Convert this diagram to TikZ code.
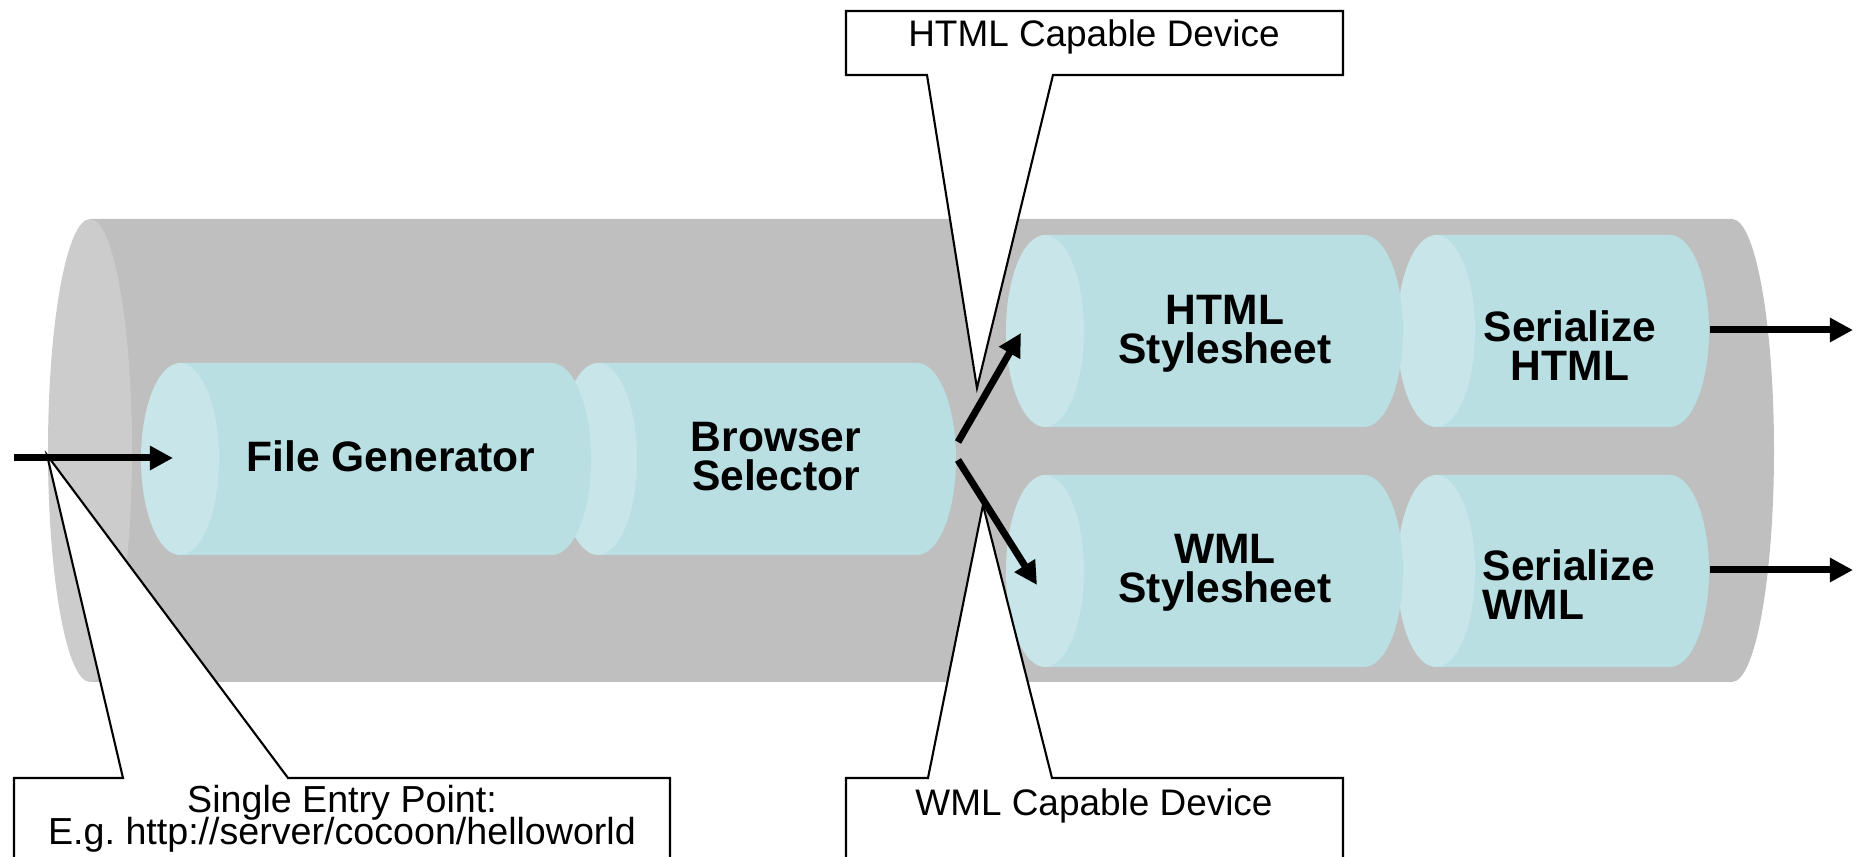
\documentclass[tikz,border=0pt]{standalone}
\usepackage{fontspec}
\setmainfont{Liberation Sans}
\usetikzlibrary{arrows.meta}

\definecolor{pipebody}{RGB}{191,191,191}
\definecolor{pipeend}{RGB}{204,204,204}
\definecolor{stagebody}{RGB}{185,223,227}
\definecolor{stageend}{RGB}{200,230,233}

% lines of the notes sit closer than the font would set them
\newcommand{\tightlines}{\setlength{\lineskiplimit}{-20pt}}

\begin{document}
\begin{tikzpicture}[x=0.01cm, y=0.01cm,
    stage/.style={fill=stagebody},
    stagecap/.style={fill=stageend},
    flow/.style={line width=0.07cm, -{Triangle[length=0.23cm, width=0.23cm]}},
    callout/.style={draw=black, fill=white, line width=0.6pt},
    stagetext/.style={font=\bfseries\fontsize{12.1}{11.1}\selectfont, align=center, inner sep=0pt},
    notetext/.style={font=\fontsize{10.5}{9.1}\selectfont\tightlines, align=center, inner sep=0pt}]

    \useasboundingbox (0,0) rectangle (1856,857);
    \clip (0,0) rectangle (1856,857);

    % The outer pipeline
    \fill[pipebody] (90,638) -- (1732,638) arc[start angle=90, end angle=-90, x radius=42, y radius=231.5] -- (90,175) -- cycle;
    \fill[pipeend] (90,406.5) ellipse [x radius=42, y radius=231.5];

    % Serializers (drawn first, the stylesheets overlap them)
    \fill[stage] (1436,622) -- (1670,622) arc[start angle=90, end angle=-90, x radius=39, y radius=96] -- (1436,430) -- cycle;
    \fill[stagecap] (1436,526) ellipse [x radius=39, y radius=96];
    \fill[stage] (1436,382) -- (1670,382) arc[start angle=90, end angle=-90, x radius=39, y radius=96] -- (1436,190) -- cycle;
    \fill[stagecap] (1436,286) ellipse [x radius=39, y radius=96];

    % Stylesheets
    \fill[stage] (1045,622) -- (1364,622) arc[start angle=90, end angle=-90, x radius=39, y radius=96] -- (1045,430) -- cycle;
    \fill[stagecap] (1045,526) ellipse [x radius=39, y radius=96];
    \fill[stage] (1045,382) -- (1364,382) arc[start angle=90, end angle=-90, x radius=39, y radius=96] -- (1045,190) -- cycle;
    \fill[stagecap] (1045,286) ellipse [x radius=39, y radius=96];

    % Selector and generator
    \fill[stage] (598,494) -- (917,494) arc[start angle=90, end angle=-90, x radius=39, y radius=96] -- (598,302) -- cycle;
    \fill[stagecap] (598,398) ellipse [x radius=39, y radius=96];
    \fill[stage] (180,494) -- (552,494) arc[start angle=90, end angle=-90, x radius=39, y radius=96] -- (180,302) -- cycle;
    \fill[stagecap] (180,398) ellipse [x radius=39, y radius=96];

    % Stage names
    \node[stagetext] (gen) at (391,401) {File Generator};
    \node[stagetext] (sel) at (776,400) {Browser\\Selector};
    \node[stagetext] (htmlss) at (1225,523) {HTML\\Stylesheet};
    \node[stagetext] (wmlss) at (1225,284) {WML\\Stylesheet};
    \node[stagetext] (serhtml) at (1570,511) {Serialize\\HTML};
    \node[stagetext, align=left, anchor=west] (serwml) at (1482,272) {Serialize\\WML};

    % Callouts
    \draw[callout] (846,846) -- (1343,846) -- (1343,782) -- (1053,782) -- (977,469) -- (927,782) -- (846,782) -- cycle;
    \draw[callout] (846,79) -- (928,79) -- (983,352) -- (1052,79) -- (1343,79) -- (1343,-20) -- (846,-20) -- cycle;
    \draw[callout] (14,79) -- (123,79) -- (47,402) -- (288,79) -- (670,79) -- (670,-20) -- (14,-20) -- cycle;

    \node[notetext] (htmldev) at (1094,820) {HTML Capable Device};
    \node[notetext] (wmldev) at (1094,51) {WML Capable Device};
    \node[notetext, font=\fontsize{10.7}{9.1}\selectfont\tightlines] (entrypt) at (342,38) {Single Entry Point:\\E.g.\ http://server/cocoon/helloworld};

    % Arrow ends
    \coordinate (entry) at (14,399);
    \coordinate (gen-in) at (173,399);
    \coordinate (sel-html) at (958,415);
    \coordinate (htmlss-in) at (1021,524);
    \coordinate (sel-wml) at (958,397);
    \coordinate (wmlss-in) at (1037,272);
    \coordinate (serhtml-out) at (1710,527);
    \coordinate (html-out) at (1853,527);
    \coordinate (serwml-out) at (1710,287);
    \coordinate (wml-out) at (1853,287);

    % Draw the flow
    \draw[flow] (entry) -- (gen-in);
    \draw[flow] (sel-html) -- (htmlss-in);
    \draw[flow] (sel-wml) -- (wmlss-in);
    \draw[flow] (serhtml-out) -- (html-out);
    \draw[flow] (serwml-out) -- (wml-out);

\end{tikzpicture}
\end{document}
